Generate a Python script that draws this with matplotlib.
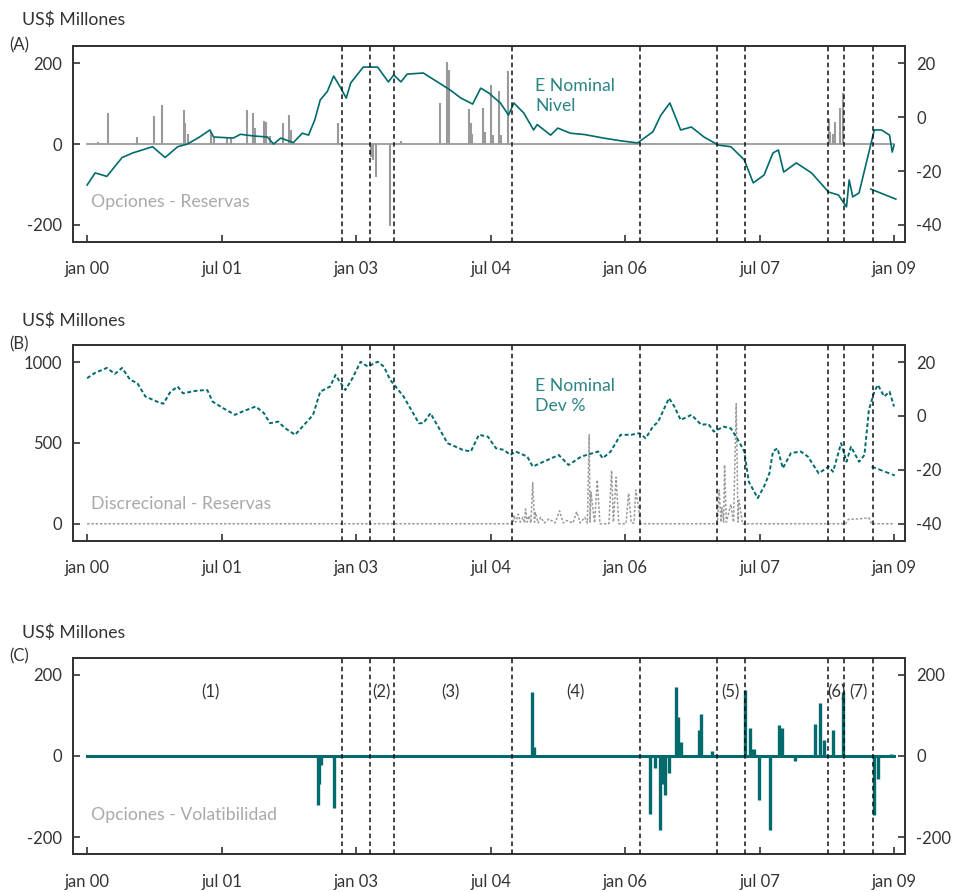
import matplotlib
matplotlib.use("Agg")
import matplotlib.pyplot as plt

plt.rcParams['font.family'] = ['Lato', 'DejaVu Sans']

# ---------------- DATA (decimal years) ----------------
xticks = [2000.0, 2001.5, 2003.0, 2004.5, 2006.0, 2007.5, 2009.0]
xtick_labels = ["jan 00", "jul 01", "jan 03", "jul 04", "jan 06", "jul 07", "jan 09"]
break_dates = [2002.84, 2003.16, 2003.42, 2004.74, 2006.17, 2007.03, 2007.34, 2008.26, 2008.44, 2008.76]

# Panel A: E Nominal Nivel (right axis)
nivel_dates = [2000.00, 2000.09, 2000.22, 2000.39, 2000.51, 2000.73, 2000.87, 2001.01, 2001.12, 2001.25,
               2001.37, 2001.41, 2001.63, 2001.71, 2001.85, 2002.01, 2002.08, 2002.16, 2002.30, 2002.40,
               2002.47, 2002.54, 2002.60, 2002.68, 2002.75, 2002.83, 2002.89, 2002.94, 2003.08, 2003.24,
               2003.36, 2003.42, 2003.50, 2003.57, 2003.75, 2003.86, 2004.05, 2004.17, 2004.30, 2004.39,
               2004.48, 2004.61, 2004.70, 2004.76, 2004.87, 2004.98, 2005.02, 2005.17, 2005.25, 2005.39,
               2005.55, 2005.76, 2005.95, 2006.14, 2006.23, 2006.31, 2006.40, 2006.50, 2006.62, 2006.74,
               2006.88, 2007.04, 2007.18, 2007.33, 2007.43, 2007.55, 2007.65, 2007.71, 2007.77, 2007.91,
               2008.08, 2008.27, 2008.38, 2008.47, 2008.50, 2008.54, 2008.61, 2008.72, 2008.78, 2008.86,
               2008.95, 2008.98, 2009.00]
nivel_values = [-25.2, -20.7, -22.0, -15.0, -13.3, -11.0, -15.0, -11.0, -10.0, -7.5,
                -4.8, -7.4, -7.8, -6.4, -7.0, -7.4, -10.0, -7.8, -9.5, -6.0,
                -6.7, -1.0, 6.3, 9.5, 15.2, 10.7, 7.0, 12.6, 18.5, 18.5,
                13.0, 15.6, 13.0, 15.9, 16.3, 14.0, 10.0, 7.0, 4.8, 10.7,
                8.9, 5.2, 0.7, 5.2, 1.5, -4.8, -2.8, -6.7, -4.1, -6.0,
                -6.5, -7.8, -8.8, -9.6, -7.4, -5.5, 0.7, 5.2, -4.8, -3.7,
                -7.4, -10.4, -11.0, -15.9, -24.4, -21.5, -13.3, -12.2, -20.4, -17.0,
                -20.7, -27.8, -28.9, -33.3, -23.3, -29.6, -28.1, -13.0, -4.8, -4.8,
                -6.7, -13.0, -10.4]
nivel_trend_dates = [2008.74, 2009.02]
nivel_trend_values = [-26.7, -30.4]

# Panel A: Opciones - Reservas (left axis, US$ millones)
opres_dates = [2000.12, 2000.23, 2000.56, 2000.75, 2000.84, 2001.08, 2001.09, 2001.12, 2001.38, 2001.41,
               2001.56, 2001.61, 2001.78, 2001.85, 2001.87, 2001.97, 2001.99, 2002.04, 2002.19, 2002.25,
               2002.27, 2002.80, 2003.17, 2003.19, 2003.22, 2003.38, 2003.50, 2003.94, 2004.01, 2004.04,
               2004.26, 2004.28, 2004.29, 2004.42, 2004.44, 2004.50, 2004.53, 2004.59, 2004.62, 2004.69,
               2008.27, 2008.29, 2008.32, 2008.34, 2008.40, 2008.43]
opres_values = [5, 76, 17, 69, 96, 84, 52, 25, 30, 16,
                15, 15, 84, 76, 40, 57, 55, 20, 52, 72,
                35, 52, -32, -40, -81, -202, 7, 102, 203, 184,
                86, 51, 25, 88, 30, 146, 22, 132, 22, 180,
                63, 30, 25, 55, 88, 127]

# Panel B: E Nominal Dev % (right axis)
dev_dates = [2000.00, 2000.09, 2000.22, 2000.31, 2000.39, 2000.48, 2000.56, 2000.65, 2000.78, 2000.85,
             2000.93, 2001.01, 2001.07, 2001.23, 2001.34, 2001.40, 2001.51, 2001.65, 2001.73, 2001.88,
             2001.97, 2002.04, 2002.13, 2002.21, 2002.32, 2002.41, 2002.52, 2002.60, 2002.71, 2002.77,
             2002.83, 2002.88, 2002.96, 2003.05, 2003.13, 2003.24, 2003.31, 2003.38, 2003.53, 2003.70,
             2003.75, 2003.83, 2004.02, 2004.19, 2004.28, 2004.37, 2004.47, 2004.56, 2004.65, 2004.72,
             2004.78, 2004.91, 2004.97, 2005.09, 2005.26, 2005.37, 2005.51, 2005.70, 2005.75, 2005.84,
             2005.95, 2006.07, 2006.16, 2006.23, 2006.31, 2006.37, 2006.49, 2006.55, 2006.62, 2006.74,
             2006.85, 2006.93, 2006.99, 2007.10, 2007.18, 2007.26, 2007.33, 2007.38, 2007.48, 2007.55,
             2007.61, 2007.65, 2007.70, 2007.76, 2007.85, 2007.96, 2008.04, 2008.16, 2008.27, 2008.32,
             2008.41, 2008.47, 2008.52, 2008.61, 2008.67, 2008.72, 2008.78, 2008.82, 2008.89, 2008.95,
             2009.00]
dev_values = [14.0, 16.0, 17.8, 15.6, 17.8, 13.4, 12.2, 7.2, 5.3, 4.5,
              9.0, 10.9, 8.4, 9.4, 9.6, 5.3, 3.0, 0.4, 1.6, 3.5,
              1.1, -2.7, -2.1, -4.6, -7.0, -3.7, 0.4, 9.0, 10.9, 15.2,
              12.1, 9.6, 14.0, 20.1, 18.3, 20.1, 18.3, 13.4, 7.2, -2.7,
              -2.7, 1.0, -10.1, -12.6, -13.2, -7.0, -7.7, -12.0, -12.6, -14.5,
              -13.2, -15.1, -18.8, -17.0, -14.5, -18.2, -15.1, -13.2, -15.7, -13.2,
              -7.0, -7.0, -6.4, -8.3, -4.0, -2.1, 6.6, 3.5, -1.5, 0.4,
              -3.3, -3.0, -5.8, -4.0, -4.6, -8.9, -13.2, -24.4, -30.5, -26.2,
              -21.3, -13.2, -12.0, -19.4, -13.8, -13.2, -15.1, -21.3, -18.8, -20.7,
              -10.1, -17.0, -11.4, -17.0, -14.5, 2.2, 9.0, 11.5, 7.2, 9.0,
              3.5]
dev_trend_dates = [2008.75, 2009.01]
dev_trend_values = [-18.8, -22.1]

# Panel B: Discrecional - Reservas (left axis)
disc_dates = [2000.00, 2004.75, 2004.76, 2004.78, 2004.81, 2004.83, 2004.86, 2004.88, 2004.89, 2004.91,
              2004.93, 2004.95, 2004.97, 2004.99, 2005.00, 2005.03, 2005.06, 2005.10, 2005.15, 2005.22,
              2005.27, 2005.31, 2005.35, 2005.42, 2005.46, 2005.50, 2005.55, 2005.58, 2005.60, 2005.61,
              2005.62, 2005.66, 2005.69, 2005.72, 2005.82, 2005.85, 2005.87, 2005.90, 2005.93, 2006.01,
              2006.04, 2006.07, 2006.10, 2006.12, 2006.15, 2006.17, 2007.03, 2007.05, 2007.07, 2007.08,
              2007.10, 2007.11, 2007.13, 2007.18, 2007.21, 2007.24, 2007.26, 2007.27, 2007.29, 2007.31,
              2008.46, 2008.49, 2008.61, 2008.72, 2008.75, 2009.00]
disc_values = [0, 0, 54, 10, 60, 10, 40, 5, 91, 10,
               50, 5, 254, 10, 70, 5, 40, 5, 30, 5,
               80, 5, 20, 5, 74, 5, 40, 5, 550, 10,
               195, 5, 271, 0, 0, 329, 10, 288, 0, 0,
               188, 5, 5, 209, 100, 0, 0, 209, 10, 100,
               10, 364, 10, 120, 10, 742, 10, 147, 80, 0,
               0, 27, 30, 37, 0, 0]

# Panel C: Opciones - Volatibilidad (left axis)
vol_dates = [2002.57, 2002.59, 2002.61, 2002.75, 2004.96, 2004.98, 2006.28, 2006.33, 2006.39, 2006.42,
             2006.45, 2006.49, 2006.57, 2006.59, 2006.62, 2006.83, 2006.85, 2006.97, 2007.34, 2007.39,
             2007.41, 2007.44, 2007.49, 2007.62, 2007.72, 2007.75, 2007.90, 2008.12, 2008.17, 2008.22,
             2008.32, 2008.43, 2008.78, 2008.82, 2008.97]
vol_values = [-120, -68, -23, -127, 158, 22, -142, -29, -182, -68,
              -95, -41, 170, 96, 35, 63, 103, 12, 162, 68,
              18, 18, -109, -182, 76, 68, -13, 78, 131, 40,
              63, 158, -146, -56, 4]

period_labels = ["(1)", "(2)", "(3)", "(4)", "(5)", "(6)", "(7)"]
period_pos = [2001.38, 2003.28, 2004.05, 2005.45, 2007.17, 2008.355, 2008.60]

# ---------------- STYLE ----------------
TEAL = "#006a6c"
TEAL_TXT = "#2b8585"
GRAY = "#9a9a9a"
GRAY_TXT = "#a9a9a9"
DARK = "#333333"
FS = 12
FL = 12.7

fig = plt.figure(figsize=(9.56, 8.92), dpi=100)
L, R = 0.0764, 0.9467
boxes = [(0.7287, 0.9484), (0.3938, 0.6132), (0.0423, 0.2627)]

def style(ax, ax2, lticks, rticks, lylim, rylim):
    ax.set_xlim(1999.843, 2009.123)
    ax.set_ylim(*lylim)
    ax2.set_ylim(*rylim)
    ax.set_xticks(xticks)
    ax.set_xticklabels(xtick_labels)
    ax.set_yticks(lticks)
    ax.set_yticklabels([str(t) for t in lticks])
    ax2.set_yticks(rticks)
    ax2.set_yticklabels([str(t) for t in rticks])
    ax.tick_params(axis='x', direction='in', length=5, width=1.2, color=DARK, labelsize=FS,
                   labelcolor=DARK, pad=14, top=False)
    ax.tick_params(axis='y', direction='in', length=5, width=1.2, color=DARK, labelsize=FS,
                   labelcolor=DARK, pad=8)
    ax2.tick_params(axis='y', direction='in', length=5, width=1.2, color=DARK, labelsize=FS,
                    labelcolor=DARK, pad=8)
    for a in (ax, ax2):
        for s in a.spines.values():
            s.set_color(DARK)
            s.set_linewidth(1.3)
    for d in break_dates:
        ax2.axvline(d, color="#111111", lw=1.1, ls=(0, (3, 2.2)), zorder=5)

axes = []
for (b, t) in boxes:
    ax = fig.add_axes([L, b, R - L, t - b])
    ax2 = ax.twinx()
    axes.append((ax, ax2))

# Panel A
ax, ax2 = axes[0]
ax.plot([2000.0, 2009.0], [0, 0], color=GRAY, lw=1.3)
ax.vlines(opres_dates, 0, opres_values, color=GRAY, lw=1.5)
ax2.plot(nivel_dates, nivel_values, color=TEAL, lw=1.2)
ax2.plot(nivel_trend_dates, nivel_trend_values, color=TEAL, lw=1.2)
style(ax, ax2, [200, 0, -200], [20, 0, -20, -40], (-242, 242), (-46.3, 26.3))
ax.text(2000.04, -143, "Opciones - Reservas", color=GRAY_TXT, fontsize=FL, va='center', ha='left')
ax2.text(2005.0, 7.8, "E Nominal\nNivel", color=TEAL_TXT, fontsize=FL, va='center', ha='left',
         linespacing=1.25)

# Panel B
ax, ax2 = axes[1]
ax.plot(disc_dates, disc_values, color=GRAY, lw=1.1, ls=(0, (1.6, 1.2)))
ax2.plot(dev_dates, dev_values, color=TEAL, lw=1.4, ls=(0, (2.0, 1.3)))
ax2.plot(dev_trend_dates, dev_trend_values, color=TEAL, lw=1.3, ls=(0, (2.5, 1.5)))
style(ax, ax2, [1000, 500, 0], [20, 0, -20, -40], (-105, 1105), (-46.3, 26.3))
ax.text(2000.04, 125, "Discrecional - Reservas", color=GRAY_TXT, fontsize=FL, va='center', ha='left')
ax2.text(2005.0, 7.4, "E Nominal\nDev %", color=TEAL_TXT, fontsize=FL, va='center', ha='left',
         linespacing=1.25)

# Panel C
ax, ax2 = axes[2]
ax.plot([2000.0, 2009.0], [0, 0], color=TEAL, lw=2.2)
ax.vlines(vol_dates, 0, vol_values, color=TEAL, lw=2.4)
style(ax, ax2, [200, 0, -200], [200, 0, -200], (-242, 242), (-242, 242))
ax.text(2000.04, -146, "Opciones - Volatibilidad", color=GRAY_TXT, fontsize=FL, va='center', ha='left')
for lab, p in zip(period_labels, period_pos):
    ax.text(p, 157, lab, color=DARK, fontsize=FS, ha='center', va='center')

# Panel headers
for ytitle, ylab, letter in [(0.9776, 0.9496, "(A)"), (0.6401, 0.6143, "(B)"), (0.2904, 0.2646, "(C)")]:
    fig.text(0.023, ytitle, "US$ Millones", fontsize=FL, color=DARK, va='center', ha='left')
    fig.text(0.010, ylab, letter, fontsize=FS, color=DARK, va='center', ha='left')

fig.savefig("out.png", dpi=100)
